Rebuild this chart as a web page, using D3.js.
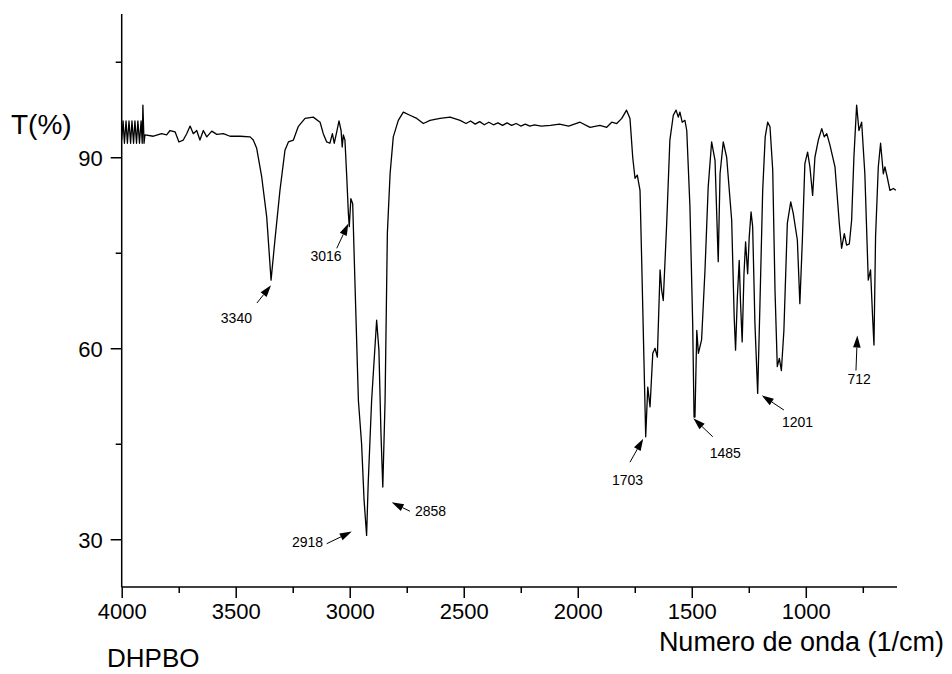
<!DOCTYPE html>
<html>
<head>
<meta charset="utf-8">
<script src="https://cdn.jsdelivr.net/npm/d3@7"></script>
<style>
  html, body { margin: 0; padding: 0; background: #fff; }
  svg { display: block; }
  text { font-family: "Liberation Sans", Arial, sans-serif; fill: #000; }
</style>
</head>
<body>
<svg id="chart" width="952" height="674"></svg>
<script>
// ---- data ----
const wavenumber = [
  4000,3994,3988,3981,3975,3968,3961,3955,3948,3942,3935,3929,3922,3915,3910,3907,3902,3898,
  3861,3825,3803,3788,3766,3749,3730,3715,3700,3686,3671,3657,3642,3627,3605,3583,3554,3525,
  3481,3437,3423,3408,3386,3364,3345,3328,3306,3284,3269,3247,3226,3196,3160,3130,3116,3101,
  3087,3076,3068,3057,3047,3038,3033,3028,3021,3013,3006,3002,2995,2987,2977,2962,2948,2937,
  2926,2919,2904,2882,2872,2863,2855,2845,2835,2823,2809,2787,2765,2736,2706,2677,2648,2604,
  2560,2516,2490,2470,2450,2430,2410,2390,2370,2350,2330,2310,2290,2270,2250,2230,2210,2190,
  2160,2120,2080,2040,1990,1946,1903,1873,1851,1829,1807,1786,1771,1759,1749,1739,1727,1720,
  1710,1702,1693,1683,1671,1661,1651,1639,1632,1625,1610,1596,1581,1569,1559,1552,1542,1530,
  1522,1508,1496,1490,1486,1478,1471,1457,1442,1428,1413,1398,1384,1376,1362,1347,1325,1314,
  1308,1300,1292,1286,1279,1271,1264,1255,1248,1240,1233,1223,1211,1201,1189,1178,1167,1157,
  1145,1135,1125,1116,1107,1096,1081,1066,1055,1037,1026,1015,1004,992,982,970,960,945,
  930,919,908,894,872,853,843,831,821,809,799,789,777,767,755,741,726,716,
  707,701,694,682,672,660,653,643,631,616,605
];
const transmittance = [
  92.7,95.7,92.2,95.7,92.2,95.7,92.2,95.7,92.2,95.7,92.2,95.7,92.2,95.7,92.2,98.2,92.2,93.5,
  93.3,93.7,93.5,94.2,94.0,92.4,92.7,93.7,94.9,93.7,94.2,92.7,94.2,93.2,94.1,93.6,93.7,93.3,
  93.3,93.2,92.7,91.4,86.9,80.6,70.7,77.0,84.8,91.1,92.4,92.7,94.8,96.1,96.3,95.5,93.7,92.4,
  92.2,93.7,92.2,94.0,95.7,94.2,91.6,93.5,92.7,86.9,81.2,79.1,83.5,82.7,70.2,51.8,45.0,36.1,
  30.6,38.8,51.8,64.4,59.7,46.6,38.2,51.8,78.0,87.4,93.2,95.8,97.1,96.6,96.1,95.3,95.8,96.1,
  96.3,95.8,95.3,95.7,95.2,95.6,95.1,95.5,95.1,95.4,95.0,95.4,95.0,95.3,94.9,95.2,94.9,95.1,
  94.9,95.0,95.2,94.9,95.5,94.7,95.0,94.7,95.5,95.3,96.1,97.4,96.1,90.0,86.7,87.2,84.8,74.3,
  58.6,46.1,53.9,50.8,59.2,60.0,58.6,72.3,69.1,67.5,79.6,92.7,96.6,97.4,96.3,97.1,95.5,95.8,
  94.2,82.2,63.9,49.2,49.2,62.8,59.2,61.3,72.3,85.3,92.4,89.5,73.6,87.4,92.4,90.0,80.1,64.9,
  59.7,68.1,73.8,67.0,61.0,71.7,76.7,71.7,77.5,81.4,79.1,63.9,52.9,67.0,84.8,93.2,95.5,94.8,
  88.0,69.1,57.1,58.4,56.5,62.8,79.6,83.0,81.2,77.0,67.0,77.0,89.0,90.8,88.5,84.0,90.0,92.7,
  94.5,93.2,93.7,91.9,88.5,79.6,75.7,78.0,76.2,76.4,80.1,90.0,98.2,94.2,95.5,87.4,70.7,72.3,
  64.9,60.5,77.5,88.5,92.2,87.4,88.5,86.9,84.8,85.1,84.8
];

const xMajorTicks = [4000, 3500, 3000, 2500, 2000, 1500, 1000];
const xMinorTicks = [3750, 3250, 2750, 2250, 1750, 1250, 750];
const yMajorTicks = [30, 60, 90];
const yMinorTicks = [45, 75, 105];

// peak annotations (data coordinates: arrow tip, arrow tail, label anchor)
const peakLabels = ["3340", "3016", "2918", "2858", "1703", "1485", "1201", "712"];
const tipW   = [3345, 3006, 2991, 2816, 1713, 1493, 1193, 774];
const tipT   = [69.9, 79.6, 31.2, 35.8, 45.8, 49.0, 52.6, 62.0];
const tailW  = [3407, 3057, 3101, 2736, 1771, 1408, 1096, 780];
const tailT  = [67.1, 75.7, 29.3, 34.4, 42.1, 46.1, 50.3, 56.5];
const labelW = [3497, 3104, 3117, 2714, 1782, 1353, 1036, 766];
const labelT = [64.7, 74.5, 29.5, 34.4, 39.3, 43.6, 48.4, 55.2];
const labelAnchor = ["middle", "middle", "end", "start", "middle", "middle", "middle", "middle"];

// ---- drawing ----
const svg = d3.select("#chart");
const x = d3.scaleLinear().domain([4000, 600]).range([121.7, 897]);
const y = d3.scaleLinear().domain([22.5, 112.5]).range([587, 14]);

const fontTick = "22px";

// y axis
const yAxis = d3.axisLeft(y).tickValues(yMajorTicks).tickSize(11).tickPadding(8).tickFormat(d3.format("d"));
const gy = svg.append("g").attr("transform", `translate(${x(4000)},0)`).call(yAxis);
gy.select(".domain").remove();
gy.selectAll("line").attr("stroke", "#000").attr("stroke-width", 1.5);
gy.selectAll("text").style("font-size", fontTick).attr("dy", "0.36em");
const gyMinor = svg.append("g").attr("transform", `translate(${x(4000)},0)`)
  .call(d3.axisLeft(y).tickValues(yMinorTicks).tickSize(6).tickFormat(""));
gyMinor.select(".domain").remove();
gyMinor.selectAll("line").attr("stroke", "#000").attr("stroke-width", 1.5);

// x axis
const xAxis = d3.axisBottom(x).tickValues(xMajorTicks).tickSize(11).tickPadding(5).tickFormat(d3.format("d"));
const gx = svg.append("g").attr("transform", `translate(0,${y(22.5)})`).call(xAxis);
gx.select(".domain").remove();
gx.selectAll("line").attr("stroke", "#000").attr("stroke-width", 1.5);
gx.selectAll("text").style("font-size", fontTick).attr("dy", "0.71em");
const gxMinor = svg.append("g").attr("transform", `translate(0,${y(22.5)})`)
  .call(d3.axisBottom(x).tickValues(xMinorTicks).tickSize(6).tickFormat(""));
gxMinor.select(".domain").remove();
gxMinor.selectAll("line").attr("stroke", "#000").attr("stroke-width", 1.5);

// axis lines
svg.append("line").attr("x1", x(4000)).attr("x2", x(4000)).attr("y1", y(112.5)).attr("y2", y(22.5))
  .attr("stroke", "#000").attr("stroke-width", 1.5);
svg.append("line").attr("x1", x(4000)).attr("x2", x(600)).attr("y1", y(22.5)).attr("y2", y(22.5))
  .attr("stroke", "#000").attr("stroke-width", 1.5);

// spectrum
const pts = wavenumber.map((w, i) => [w, transmittance[i]]);
svg.append("path")
  .datum(pts)
  .attr("fill", "none")
  .attr("stroke", "#000")
  .attr("stroke-width", 1.3)
  .attr("stroke-linejoin", "round")
  .attr("d", d3.line().x(d => x(d[0])).y(d => y(d[1])));

// annotations
peakLabels.forEach((lab, i) => {
  const x1 = x(tailW[i]), y1 = y(tailT[i]);
  const x2 = x(tipW[i]), y2 = y(tipT[i]);
  const dx = x2 - x1, dy = y2 - y1;
  const len = Math.hypot(dx, dy);
  const ux = dx / len, uy = dy / len;
  const hl = Math.min(12, len * 0.75), hw = 3.8;
  const bx = x2 - ux * hl, by = y2 - uy * hl;
  svg.append("line").attr("x1", x1).attr("y1", y1).attr("x2", bx).attr("y2", by)
    .attr("stroke", "#000").attr("stroke-width", 1);
  svg.append("path")
    .attr("d", `M${x2},${y2}L${bx - uy * hw},${by + ux * hw}L${bx + uy * hw},${by - ux * hw}Z`)
    .attr("fill", "#000");
  svg.append("text")
    .attr("x", x(labelW[i])).attr("y", y(labelT[i]))
    .attr("dy", "0.36em")
    .attr("text-anchor", labelAnchor[i])
    .style("font-size", "14px")
    .text(lab);
});

// titles
svg.append("text").attr("x", 11).attr("y", 134).style("font-size", "28px").text("T(%)");
svg.append("text").attr("x", 944).attr("y", 651).attr("text-anchor", "end")
  .style("font-size", "27px").text("Numero de onda (1/cm)");
svg.append("text").attr("x", 107).attr("y", 667).style("font-size", "26px").text("DHPBO");
</script>
</body>
</html>
